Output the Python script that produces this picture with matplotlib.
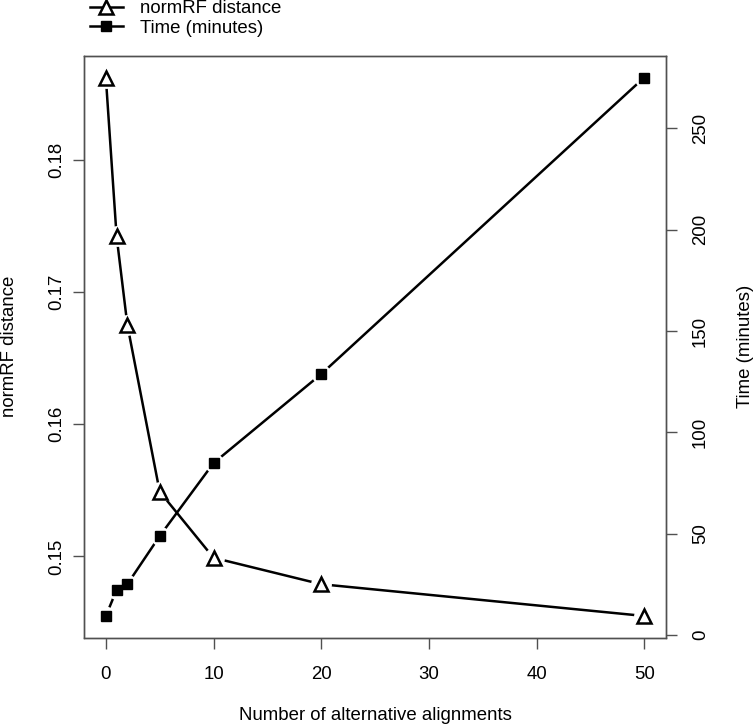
import matplotlib
matplotlib.use('Agg')
import matplotlib.pyplot as plt
from matplotlib.lines import Line2D

# ---- data ----
n_alt = [0, 1, 2, 5, 10, 20, 50]
norm_rf = [0.1862, 0.1742, 0.1675, 0.1549, 0.1499, 0.1479, 0.1455]
time_min = [9.4, 22.2, 25.1, 48.8, 84.8, 128.7, 275.0]
x_ticks = [0, 10, 20, 30, 40, 50]
y1_ticks = [0.15, 0.16, 0.17, 0.18]
y2_ticks = [0, 50, 100, 150, 200, 250]
x_title = "Number of alternative alignments"
y1_title = "normRF distance"
y2_title = "Time (minutes)"

plt.rcParams['font.family'] = ['Liberation Sans', 'DejaVu Sans']
FS = 13.4
W, H = 755, 727
fig = plt.figure(figsize=(W / 100, H / 100), dpi=100)

L, R, T, B = 84.3, 665.7, 56.0, 637.5
ax = fig.add_axes([L / W, 1 - B / H, (R - L) / W, (B - T) / H])
ax2 = ax.twinx()


def rlim(v):
    lo, hi = min(v), max(v)
    r = hi - lo
    return lo - 0.04 * r, hi + 0.04 * r


ax.set_xlim(rlim(n_alt))
ax.set_ylim(rlim(norm_rf))
ax2.set_ylim(rlim(time_min))

LW = 1.8
# normRF series (type = "b" look: gaps around points)
ax.plot(n_alt, norm_rf, color='black', lw=LW, zorder=1, solid_capstyle='butt')
ax.plot(n_alt, norm_rf, ls='none', marker='o', ms=15, mfc='white', mec='none', zorder=2)
ax.plot(n_alt, norm_rf, ls='none', marker='^', ms=9.5, mfc='white', mec='black', mew=1.8, zorder=3)

# time series
ax2.plot(n_alt, time_min, color='black', lw=LW, zorder=1, solid_capstyle='butt')
ax2.plot(n_alt, time_min, ls='none', marker='o', ms=14, mfc='white', mec='none', zorder=2)
ax2.plot(n_alt, time_min, ls='none', marker='s', ms=7, mfc='black', mec='black', zorder=3)

box_col = '#505050'
for a in (ax, ax2):
    for s in a.spines.values():
        s.set_color(box_col)
        s.set_linewidth(1.0)

TL = 7.9
ax.set_xticks(x_ticks)
ax.set_xticklabels([str(v) for v in x_ticks])
ax.tick_params(axis='x', direction='out', length=TL, width=1, color=box_col,
               labelsize=FS, pad=12.5)
ax.set_yticks(y1_ticks)
ax.set_yticklabels([f"{v:.2f}" for v in y1_ticks])
ax.tick_params(axis='y', direction='out', length=TL, width=1, color=box_col,
               labelsize=FS, pad=6, labelrotation=90)
for lab in ax.get_yticklabels():
    lab.set_va('center')

ax2.set_yticks(y2_ticks)
ax2.set_yticklabels([str(v) for v in y2_ticks])
ax2.tick_params(axis='y', direction='out', length=TL, width=1, color=box_col,
                labelsize=FS, pad=11, labelrotation=90)
for lab in ax2.get_yticklabels():
    lab.set_va('center')

cy = 1 - ((T + B) / 2) / H
fig.text(((L + R) / 2) / W, 1 - 716 / H, x_title, ha='center', va='center', fontsize=FS)
fig.text(10 / W, cy, y1_title, ha='center', va='center', rotation=90, fontsize=FS)
fig.text(745 / W, cy, y2_title, ha='center', va='center', rotation=90, fontsize=FS)

handles = [
    Line2D([], [], color='black', lw=LW, marker='^', ms=9.5, mfc='white', mec='black', mew=1.8),
    Line2D([], [], color='black', lw=LW, marker='s', ms=7, mfc='black', mec='black'),
]
fig.legend(handles, [y1_title, y2_title], loc='upper left',
           bbox_to_anchor=(90 / W, 1.0), bbox_transform=fig.transFigure,
           frameon=False, borderpad=0, borderaxespad=0, handlelength=1.77,
           handletextpad=0.9, labelspacing=0.15, fontsize=FS)

fig.savefig('out.png', dpi=100)
